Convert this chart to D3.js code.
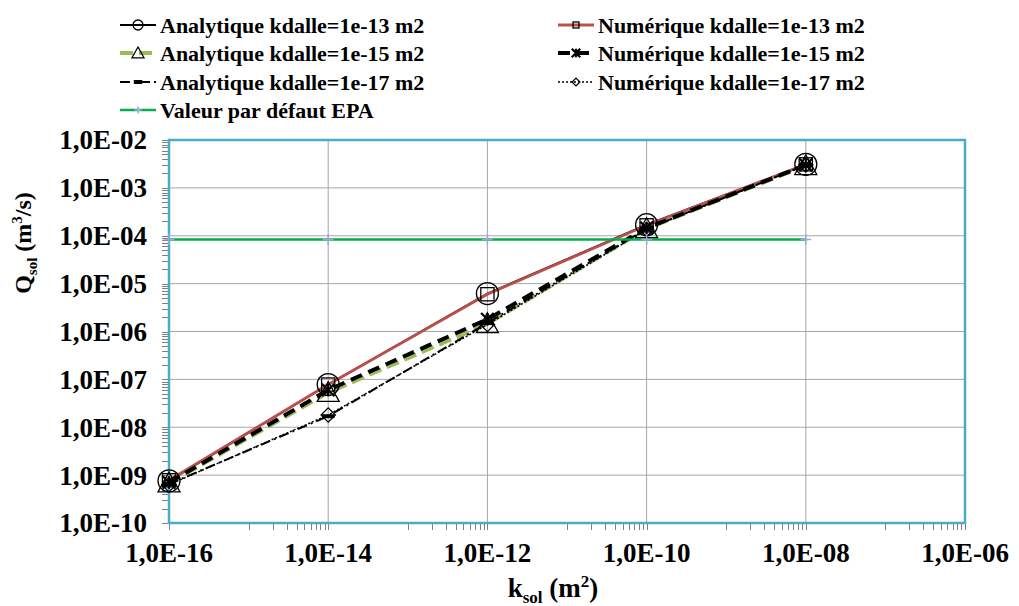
<!DOCTYPE html>
<html><head><meta charset="utf-8">
<script src="https://cdn.jsdelivr.net/npm/d3@7"></script>
</head><body style="margin:0">
<svg id="c" width="1019" height="606" style="display:block"></svg>
<script>
const ksol = [1e-16, 1e-14, 1e-12, 1e-10, 1e-8];
const analytique13 = [7.6e-10, 7.8e-8, 6.2e-6, 1.7e-4, 3.1e-3];
const numerique13  = [7.8e-10, 7.8e-8, 6.0e-6, 1.65e-4, 3.1e-3];
const analytique15 = [6.8e-10, 5.3e-8, 1.45e-6, 1.4e-4, 2.9e-3];
const numerique15  = [7.0e-10, 6.0e-8, 1.8e-6, 1.45e-4, 3.0e-3];
const analytique17 = [6.5e-10, 1.7e-8, 1.5e-6, 1.4e-4, 3.0e-3];
const numerique17  = [6.3e-10, 1.8e-8, 1.4e-6, 1.35e-4, 3.0e-3];
const epa          = [8.3e-5, 8.3e-5, 8.3e-5, 8.3e-5, 8.3e-5];
const xTicks = [1e-16, 1e-14, 1e-12, 1e-10, 1e-8, 1e-6];
const xTickLabels = ["1,0E-16","1,0E-14","1,0E-12","1,0E-10","1,0E-08","1,0E-06"];
const yTicks = [1e-10,1e-9,1e-8,1e-7,1e-6,1e-5,1e-4,1e-3,1e-2];
const yTickLabels = ["1,0E-10","1,0E-09","1,0E-08","1,0E-07","1,0E-06","1,0E-05","1,0E-04","1,0E-03","1,0E-02"];
const seriesNames = ["Analytique kdalle=1e-13 m2","Numérique kdalle=1e-13 m2","Analytique kdalle=1e-15 m2","Numérique kdalle=1e-15 m2","Analytique kdalle=1e-17 m2","Numérique kdalle=1e-17 m2","Valeur par défaut EPA"];

const series = [
  {name: seriesNames[0], v: analytique13, color:"#000", w:2, dash:null, marker:"circle"},
  {name: seriesNames[1], v: numerique13, color:"#B9504C", w:2.8, dash:null, marker:"square"},
  {name: seriesNames[2], v: analytique15, color:"#9BBB59", w:4, dash:"13,6", marker:"triangle"},
  {name: seriesNames[3], v: numerique15, color:"#000", w:4, dash:"12,7", marker:"star"},
  {name: seriesNames[4], v: analytique17, color:"#000", w:2, dash:"10,4,2,4", marker:"dash"},
  {name: seriesNames[5], v: numerique17, color:"#000", w:1.5, dash:"2,2", marker:"diamond"},
  {name: seriesNames[6], v: epa, color:"#00B050", w:2.5, dash:null, marker:"plus"}
];

const L=169, R=965, T=140, B=523;
const svg = d3.select("#c");
const x = d3.scaleLog().domain([1e-16,1e-6]).range([L,R]);
const y = d3.scaleLog().domain([1e-10,1e-2]).range([B,T]);
function serif(sel, size){ return sel.style("font-family",'"Liberation Serif"').style("font-weight","bold").style("font-size",size+"px"); }

// grid
svg.append("g").selectAll("line").data(xTicks.slice(1,-1)).join("line")
  .attr("x1",d=>x(d)).attr("x2",d=>x(d)).attr("y1",T).attr("y2",B)
  .attr("stroke","#A6A6A6").attr("stroke-width",1);
svg.append("g").selectAll("line").data(yTicks.slice(1,-1)).join("line")
  .attr("y1",d=>y(d)).attr("y2",d=>y(d)).attr("x1",L).attr("x2",R)
  .attr("stroke","#A6A6A6").attr("stroke-width",1);

// minor & major ticks
const yMinor=[]; for(let e=-10;e<-2;e++) for(let k=2;k<=9;k++) yMinor.push(k*Math.pow(10,e));
const xMinor=[]; for(let e=-16;e<-6;e+=2) for(let k=10;k<=90;k+=10) xMinor.push(k*Math.pow(10,e));
const tg = svg.append("g").attr("stroke","#7F7F7F").attr("stroke-width",1);
tg.selectAll(".ym").data(yMinor.concat(yTicks)).join("line").attr("x1",L-7).attr("x2",L).attr("y1",d=>Math.round(y(d))+0.5).attr("y2",d=>Math.round(y(d))+0.5);
tg.selectAll(".xm").data(xMinor.concat(xTicks)).join("line").attr("y1",B).attr("y2",B+7).attr("x1",d=>Math.round(x(d))+0.5).attr("x2",d=>Math.round(x(d))+0.5);

// frame
svg.append("rect").attr("x",L).attr("y",T).attr("width",R-L).attr("height",B-T)
  .attr("fill","none").attr("stroke","#4BACC6").attr("stroke-width",2.5);

// tick labels
serif(svg.append("g").selectAll("text").data(yTicks).join("text")
  .attr("x",L-22).attr("y",d=>y(d)).attr("dy","0.35em").attr("text-anchor","end"),27)
  .text((d,i)=>yTickLabels[i]);
serif(svg.append("g").selectAll("text").data(xTicks).join("text")
  .attr("x",d=>x(d)).attr("y",553).attr("dy","0.35em").attr("text-anchor","middle"),27)
  .text((d,i)=>xTickLabels[i]);

// axis titles
const xt = serif(svg.append("text").attr("x",553).attr("y",597).attr("text-anchor","middle"),27);
xt.append("tspan").text("k");
xt.append("tspan").style("font-size","17px").attr("dy",6).text("sol");
xt.append("tspan").attr("dy",-6).text(" (m");
xt.append("tspan").style("font-size","17px").attr("dy",-10).text("2");
xt.append("tspan").attr("dy",10).text(")");
const yt = serif(svg.append("text").attr("transform","translate(31,243) rotate(-90)").attr("text-anchor","middle"),24);
yt.append("tspan").text("Q");
yt.append("tspan").style("font-size","15px").attr("dy",6).text("sol");
yt.append("tspan").attr("dy",-6).text(" (m");
yt.append("tspan").style("font-size","15px").attr("dy",-9).text("3");
yt.append("tspan").attr("dy",9).text("/s)");

// marker drawing
function drawMarker(g, type, cx, cy, s){
  let el;
  if(type==="circle"){ el=g.append("circle").attr("cx",cx).attr("cy",cy).attr("r",s); }
  else if(type==="square"){ el=g.append("rect").attr("x",cx-s*0.6).attr("y",cy-s*0.6).attr("width",s*1.2).attr("height",s*1.2); }
  else if(type==="triangle"){ el=g.append("path").attr("d",`M${cx},${cy-s}L${cx+s},${cy+s*0.8}L${cx-s},${cy+s*0.8}Z`); }
  else if(type==="diamond"){ el=g.append("path").attr("d",`M${cx},${cy-s*0.65}L${cx+s*0.65},${cy}L${cx},${cy+s*0.65}L${cx-s*0.65},${cy}Z`); }
  else if(type==="star"){ const a=s*0.7; g.append("path").attr("d",`M${cx-a},${cy-a}L${cx+a},${cy+a}M${cx-a},${cy+a}L${cx+a},${cy-a}M${cx},${cy-a}L${cx},${cy+a}`).attr("stroke","#000").attr("stroke-width",2.2).attr("fill","none"); return; }
  else if(type==="dash"){ g.append("rect").attr("x",cx-s*0.7).attr("y",cy-2).attr("width",s*1.4).attr("height",4).attr("fill","#000"); return; }
  else if(type==="plus"){ const a=s*0.6; g.append("path").attr("d",`M${cx-a},${cy}L${cx+a},${cy}M${cx},${cy-a}L${cx},${cy+a}`).attr("stroke","#9EA7DB").attr("stroke-width",1.5).attr("fill","none"); return; }
  el.attr("stroke","#000").attr("stroke-width",1.3).attr("fill","none");
}
const mSize = {circle:11, square:11, triangle:11, diamond:11, star:9, dash:9, plus:9};
const lSize = {circle:5, square:5, triangle:6, diamond:6, star:6, dash:6, plus:6};

// lines
const line = d3.line().x((d,i)=>x(ksol[i])).y(d=>y(d));
series.forEach(s=>{
  svg.append("path").datum(s.v).attr("d",line).attr("fill","none")
    .attr("stroke",s.color).attr("stroke-width",s.w).attr("stroke-dasharray",s.dash);
});
series.forEach(s=>{
  const g=svg.append("g");
  s.v.forEach((v,i)=>drawMarker(g,s.marker,x(ksol[i]),y(v),mSize[s.marker]));
});

// legend
const legPos = [[120,25],[558,25],[120,53],[558,53],[120,82],[558,82],[120,110]];
series.forEach((s,i)=>{
  const [lx,ly]=legPos[i];
  const g=svg.append("g");
  g.append("line").attr("x1",lx).attr("x2",lx+36).attr("y1",ly).attr("y2",ly)
    .attr("stroke",s.color).attr("stroke-width",s.w).attr("stroke-dasharray",s.dash);
  drawMarker(g,s.marker,lx+18,ly,lSize[s.marker]);
  serif(g.append("text").attr("x",lx+40).attr("y",ly).attr("dy","0.35em"),22).text(s.name);
});
</script>
</body></html>
